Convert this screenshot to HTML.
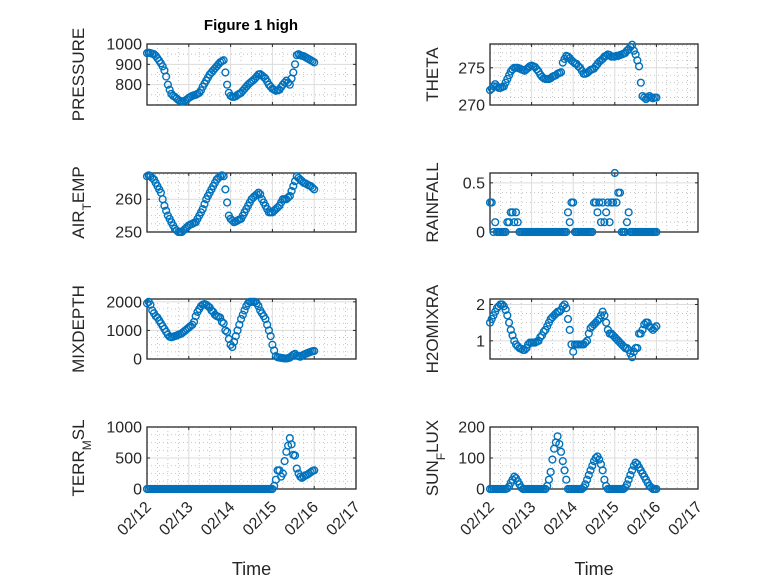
<!DOCTYPE html>
<html><head><meta charset="utf-8"><style>
html,body{margin:0;padding:0;background:#fff;}
svg{display:block;font-family:"Liberation Sans","DejaVu Sans",sans-serif;}
</style></head><body>
<svg id="fig" width="778" height="583" viewBox="0 0 778 583">
<rect width="778" height="583" fill="#fff"/>
<text x="251" y="30" text-anchor="middle" font-size="15" font-weight="bold" fill="#000">Figure 1 high</text>
</svg>
<script>
const hours = Array.from({length:97},(_,i)=>i);
const xTickLabels = ["02/12","02/13","02/14","02/15","02/16","02/17"];
const pressure = [955,957,955,952,950,942,930,918,905,890,
870,840,800,775,755,745,740,732,725,720,
718,718,722,728,735,740,745,748,750,755,
760,772,790,805,820,835,850,860,870,880,
890,900,910,915,920,860,800,760,745,740,
740,743,750,755,760,770,780,790,800,808,
815,822,830,840,850,852,845,838,830,815,
800,790,780,775,770,772,775,788,800,810,
820,810,800,830,860,900,945,950,945,942,
940,935,930,925,920,915,910];
const airTemp = [267,267.3,267,266.5,266,265,264,263,262,260,
258,256.5,255,254,253,252,251,250.5,250,250,
250,250.5,251,251.5,252,252.3,252.5,252.8,253,254,
255,256,257,258.5,260,261,262,263,264,265,
266,266.5,267,267.3,267,263,259,255,254,253.5,
253,253.2,253.5,253.8,254,255,256,257,258,259,
260,260.5,261,261.5,262,261.5,260,259,258,257,
256,256,256,256.5,257,257.5,258,259,260,260,
260,260.5,261,262.5,264,265.5,267,266.5,266,265.5,
265,264.8,264.5,264.2,264,263.5,263];
const theta = [272,272.2,272.5,272.8,272.5,272.3,272.3,272.4,272.5,273,
273.5,274,274.5,274.8,275,275,275,274.9,274.8,274.7,
274.6,274.8,275,275.2,275.3,275.2,275.1,274.8,274.5,274.1,
273.8,273.6,273.5,273.5,273.5,273.6,273.8,273.9,274,274.2,
274.3,274.4,275.7,276.2,276.6,276.5,276.3,276,275.8,275.6,
275.5,275.2,275,274.6,274.2,274.2,274.3,274.5,274.7,274.8,
274.9,275.2,275.5,275.8,276,276.2,276.5,276.6,276.8,276.7,
276.5,276.5,276.5,276.6,276.6,276.7,276.8,276.9,277,277.3,
277.5,277.8,278.1,277.3,276.8,276,275.2,273,271.2,271,
270.8,271,271.2,271,270.9,271,271];
const rainfall = [0.3,0.3,0,0.1,0,0,0,0,0,0,
0.1,0.1,0.2,0.2,0.1,0.2,0.1,0,0,0,
0,0,0,0,0,0,0,0,0,0,
0,0,0,0,0,0,0,0,0,0,
0,0,0,0,0,0.2,0.1,0.3,0.3,0,
0,0,0,0,0,0,0,0,0,0,
0.3,0.3,0.2,0.3,0.1,0.3,0.1,0.2,0.3,0.1,
0.3,0.3,0.6,0.3,0.4,0.4,0,0,0,0.1,
0.2,0,0,0,0,0,0,0,0,0,
0,0,0,0,0,0,0];
const mixDepth = [1950,2000,1900,1700,1600,1500,1450,1350,1250,1150,
1050,950,850,780,760,780,800,820,850,870,
900,950,1000,1050,1100,1150,1200,1300,1500,1650,
1750,1850,1900,1920,1900,1850,1800,1700,1650,1550,
1500,1480,1450,1300,1250,1000,950,700,500,420,
600,800,1000,1200,1400,1550,1700,1850,1950,2000,
2000,2000,2000,1950,1850,1700,1600,1500,1400,1200,
1000,800,500,300,100,60,50,40,30,20,
20,30,50,100,150,180,120,100,80,120,
150,180,200,230,250,270,280];
const h2oMix = [1.5,1.6,1.7,1.8,1.9,1.95,2.0,2.0,1.95,1.85,
1.7,1.5,1.3,1.15,1.0,0.9,0.85,0.8,0.78,0.75,
0.75,0.8,0.9,0.95,0.95,0.95,0.95,0.98,1.0,1.1,
1.15,1.25,1.3,1.4,1.5,1.6,1.65,1.7,1.75,1.8,
1.8,1.85,1.95,2.0,1.9,1.6,1.3,0.9,0.7,0.9,
0.9,0.9,0.9,0.9,0.9,0.95,1.0,1.2,1.35,1.4,
1.45,1.5,1.55,1.6,1.7,1.8,1.7,1.5,1.3,1.2,
1.2,1.15,1.1,1.05,1.0,0.95,0.9,0.85,0.8,0.8,
0.75,0.65,0.55,0.7,0.8,0.8,1.2,1.2,1.3,1.45,
1.5,1.5,1.4,1.35,1.3,1.35,1.4];
const terrMsl = [0,0,0,0,0,0,0,0,0,0,
0,0,0,0,0,0,0,0,0,0,
0,0,0,0,0,0,0,0,0,0,
0,0,0,0,0,0,0,0,0,0,
0,0,0,0,0,0,0,0,0,0,
0,0,0,0,0,0,0,0,0,0,
0,0,0,0,0,0,0,0,0,0,
0,0,0,50,150,300,300,200,250,450,
600,700,820,720,550,540,330,250,200,180,
200,220,230,250,270,290,300];
const sunFlux = [0,0,0,0,0,0,0,0,0,0,
2,8,20,30,40,35,25,15,5,0,
0,0,0,0,0,0,0,0,0,0,
0,0,0,10,30,55,95,130,150,170,
145,120,90,60,30,0,0,0,0,0,
0,0,0,0,5,15,30,45,60,75,
90,100,105,95,80,60,30,10,0,0,
0,0,0,0,0,0,0,0,5,15,
30,45,60,75,85,80,70,60,50,40,
30,20,10,5,0,0,0];
const pressTicks = [800,900,1000];
const airTicks = [250,260];
const thetaTicks = [270,275];
const rainTicks = [0,0.5];
const mixTicks = [0,1000,2000];
const h2oTicks = [1,2];
const terrTicks = [0,500,1000];
const sunTicks = [0,100,200];

const NS="http://www.w3.org/2000/svg";
const svg=document.getElementById('fig');
function mk(tag,attrs,parent){const e=document.createElementNS(NS,tag);for(const k in attrs)e.setAttribute(k,attrs[k]);(parent||svg).appendChild(e);return e;}

const cols=[{x0:147,x1:356},{x0:490,x1:698}];
const rows=[{y0:44,y1:105},{y0:173,y1:232},{y0:299,y1:359},{y0:427,y1:489}];
const panels=[
 {key:'pressure',c:0,r:0,data:pressure,ylo:700,yhi:1000,ticks:pressTicks,minor:50,label:[['PRESSURE']]},
 {key:'theta',c:1,r:0,data:theta,ylo:270,yhi:278.2,ticks:thetaTicks,minor:1,label:[['THETA']]},
 {key:'air-temp',c:0,r:1,data:airTemp,ylo:250,yhi:268,ticks:airTicks,minor:2.5,label:[['AIR'],['T','sub'],['EMP']]},
 {key:'rainfall',c:1,r:1,data:rainfall,ylo:0,yhi:0.6,ticks:rainTicks,minor:0.1,label:[['RAINFALL']]},
 {key:'mixdepth',c:0,r:2,data:mixDepth,ylo:0,yhi:2100,ticks:mixTicks,minor:250,label:[['MIXDEPTH']]},
 {key:'h2omixra',c:1,r:2,data:h2oMix,ylo:0.5,yhi:2.15,ticks:h2oTicks,minor:0.25,label:[['H2OMIXRA']]},
 {key:'terr-msl',c:0,r:3,data:terrMsl,ylo:0,yhi:1000,ticks:terrTicks,minor:125,label:[['TERR'],['M','sub'],['SL']]},
 {key:'sun-flux',c:1,r:3,data:sunFlux,ylo:0,yhi:200,ticks:sunTicks,minor:25,label:[['SUN'],['F','sub'],['LUX']]}
];

panels.forEach(p=>{
 const col=cols[p.c],row=rows[p.r];
 const g=mk('g',{});
 
 
 const xs=h=>col.x0+(col.x1-col.x0)*h/120;
 const ys=v=>row.y1-(row.y1-row.y0)*(v-p.ylo)/(p.yhi-p.ylo);
 for(let h=6;h<120;h+=6){ if(h%24===0)continue; mk('line',{x1:xs(h),x2:xs(h),y1:row.y0,y2:row.y1,stroke:'#b8b8b8','stroke-width':0.8,'stroke-dasharray':'1 3'},g);}
 for(let v=Math.ceil(p.ylo/p.minor)*p.minor;v<p.yhi;v+=p.minor){ if(p.ticks.some(t=>Math.abs(t-v)<1e-9))continue; const y=ys(v); mk('line',{x1:col.x0,x2:col.x1,y1:y,y2:y,stroke:'#b8b8b8','stroke-width':0.8,'stroke-dasharray':'1 3'},g);}
 for(let d=1;d<5;d++){mk('line',{x1:xs(d*24),x2:xs(d*24),y1:row.y0,y2:row.y1,stroke:'#dcdcdc','stroke-width':1},g);}
 p.ticks.forEach(t=>{const y=ys(t); if(y>row.y0+1&&y<row.y1-1) mk('line',{x1:col.x0,x2:col.x1,y1:y,y2:y,stroke:'#dcdcdc','stroke-width':1},g);});
 mk('rect',{x:col.x0,y:row.y0,width:col.x1-col.x0,height:row.y1-row.y0,fill:'none',stroke:'#262626','stroke-width':1.3},g);
 for(let d=0;d<=5;d++){const x=xs(d*24);mk('line',{x1:x,x2:x,y1:row.y1,y2:row.y1-3,stroke:'#262626'},g);mk('line',{x1:x,x2:x,y1:row.y0,y2:row.y0+3,stroke:'#262626'},g);}
 p.ticks.forEach(t=>{const y=ys(t);
  mk('line',{x1:col.x0,x2:col.x0+3,y1:y,y2:y,stroke:'#262626'},g);
  mk('line',{x1:col.x1,x2:col.x1-3,y1:y,y2:y,stroke:'#262626'},g);
  const tx=mk('text',{x:col.x0-5,y:y+5.5,'text-anchor':'end','font-size':16,fill:'#262626'},g);
  
  
  tx.textContent=String(t);
 });
 const lx=col.x0-(p.c===0?63:52), ly=(row.y0+row.y1)/2;
 const yl=mk('text',{x:lx,y:ly,'text-anchor':'middle','font-size':17,fill:'#262626',transform:`rotate(-90 ${lx} ${ly})`},g);
 
 
 p.label.forEach(part=>{const ts=mk('tspan',{},yl); if(part[1]==='sub'){ts.setAttribute('font-size','12');ts.setAttribute('baseline-shift','sub');} ts.textContent=part[0];});
 p.data.forEach((v,i)=>{
  const c=mk('circle',{cx:xs(hours[i]),cy:ys(v),r:3.4,fill:'none',stroke:'#0072BD','stroke-width':1.4},g);
  
  
 });
 if(p.r===3){
  xTickLabels.forEach((lab,d)=>{const x=xs(d*24), y=row.y1+10;
   const t=mk('text',{x:x+5,y:y+9,'text-anchor':'end','font-size':16,fill:'#262626',transform:`rotate(-45 ${x+5} ${y+9})`},g);
   
   
   t.textContent=lab;});
  const tl=mk('text',{x:(col.x0+col.x1)/2,y:575,'text-anchor':'middle','font-size':18,fill:'#262626'},g);
  
  
  tl.textContent='Time';
 }
});
</script>
</body></html>
